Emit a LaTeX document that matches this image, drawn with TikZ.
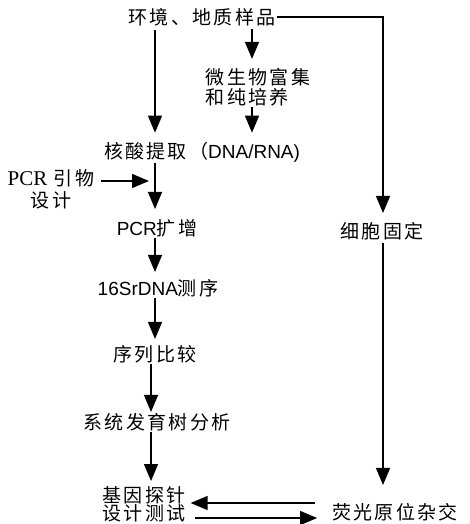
\documentclass[tikz,border=0pt]{standalone}
\usepackage{fontspec}
\setmainfont{Liberation Serif}
\newfontfamily\cjk{Noto Sans CJK SC}[LetterSpace=12]
\newfontfamily\lsans{Liberation Sans}
\usetikzlibrary{arrows.meta}
\begin{document}
\begin{tikzpicture}[x=1pt,y=-1pt,
  lab/.style={font=\fontsize{19}{20}\selectfont\cjk, inner sep=1pt, align=center},
  arr/.style={line width=1.3pt, -{Triangle[width=14pt,length=17pt]}},
  ln/.style={line width=1.3pt}]
\useasboundingbox (0,0) rectangle (470,524);
% columns and rows
\coordinate (cA) at (155,0);
\coordinate (cB) at (252,0);
\coordinate (cC) at (151,0);
\coordinate (cR) at (383,0);
\coordinate (pin) at (149,181);
\coordinate (r1) at (0,503);
\coordinate (r2) at (0,518);
% nodes
\node[lab] (env) at (202,17) {环境、地质样品};
\node[lab, align=left] (mic) at (258,87) {微生物富集\\和纯培养};
\node[lab] (nuc) at (202,152) {核酸提取（{\lsans DNA/RNA)}};
\node[lab] (pcrp) at (51,189) {{\rmfamily\fontsize{21}{21}\selectfont PCR} 引物\\[2pt]设计};
\node[lab] (pcr) at (157,228) {{\lsans PCR}扩增};
\node[lab] (s16) at (158,288) {{\lsans 16SrDNA}测序};
\node[lab] (cmp) at (155,354) {序列比较};
\node[lab] (phy) at (157,422) {系统发育树分析};
\node[lab] (prb) at (144,504) {基因探针\\[-2pt]设计测试};
\node[lab] (fish) at (395,512) {荧光原位杂交};
\node[lab] (fix) at (382,231) {细胞固定};
% connectors
\draw[arr, shorten <=3pt, shorten >=8pt] (env.south -| cA) -- (nuc.north -| cA);
\draw[arr, shorten <=2pt, shorten >=8pt] (env.south -| cB) -- (mic.north -| cB);
\draw[arr, shorten >=8pt] (mic.south -| cB) -- (nuc.north -| cB);
\draw[arr, shorten >=9pt] (nuc.south -| cA) -- (pcr.north -| cA);
\draw[arr, shorten <=6pt] (pcrp.east |- pin) -- (pin);
\draw[arr, shorten >=6pt] (pcr.south -| cA) -- (s16.north -| cA);
\draw[arr, shorten >=5pt] (s16.south -| cA) -- (cmp.north -| cA);
\draw[arr] (cmp.south -| cC) -- (phy.north -| cC);
\draw[arr, shorten >=4pt] (phy.south -| cC) -- (prb.north -| cC);
\draw[arr, shorten <=16pt, shorten >=4pt] (fish.west |- r1) -- (prb.east |- r1);
\draw[arr, shorten <=8pt, shorten >=14pt] (prb.east |- r2) -- (fish.west |- r2);
\draw[arr, shorten >=8pt] (env.east) -| (fix.north -| cR);
\draw[arr, shorten <=2pt, shorten >=17pt] (fix.south -| cR) -- (fish.north -| cR);
\end{tikzpicture}
\end{document}
